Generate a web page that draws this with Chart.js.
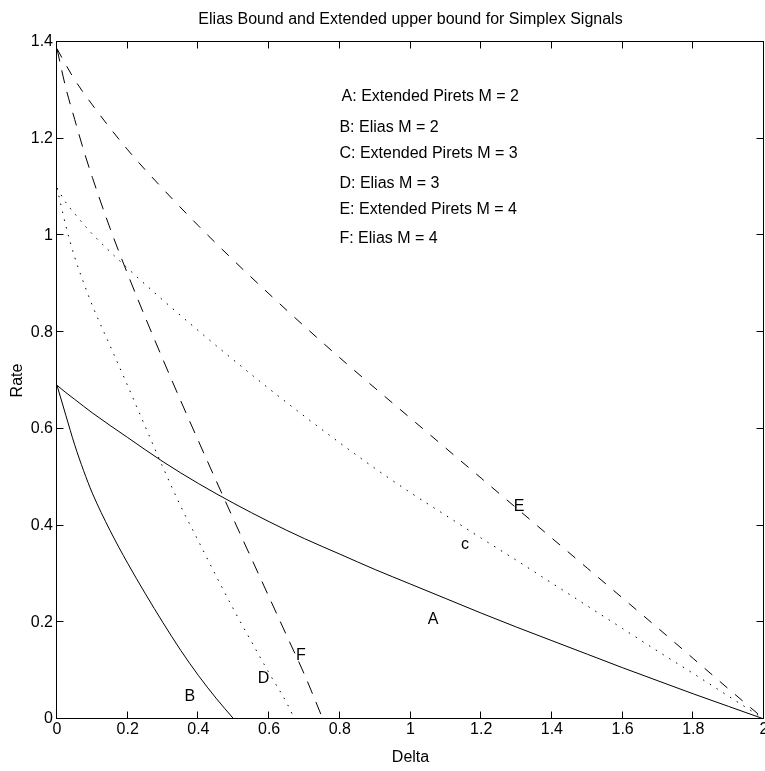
<!DOCTYPE html>
<html lang="en">
<head>
  <meta charset="UTF-8">
  <title>Elias Bound and Extended upper bound for Simplex Signals</title>
  <script src="https://cdn.jsdelivr.net/npm/chart.js"></script>
  <style>
    body { margin: 0; background: #fff; }
  </style>
</head>
<body>
  <canvas id="boundChart" width="765" height="771"></canvas>

  <script>
    // Extended Pirets upper bounds, over the whole delta range
    const extDelta = [0, 0.025, 0.05, 0.1, 0.2, 0.3, 0.4, 0.5, 0.6, 0.7, 0.8, 0.9, 1.0,
                      1.1, 1.2, 1.3, 1.4, 1.5, 1.6, 1.7, 1.8, 1.9, 2.0];
    const extPiretsM2 = [0.69, 0.675, 0.661, 0.633, 0.582, 0.532, 0.487, 0.446, 0.408, 0.373, 0.341, 0.309, 0.279,
                         0.249, 0.219, 0.19, 0.162, 0.134, 0.106, 0.079, 0.052, 0.026, 0];
    const extPiretsM3 = [1.098, 1.068, 1.045, 1.003, 0.932, 0.866, 0.803, 0.742, 0.683, 0.626, 0.571, 0.518, 0.468,
                         0.421, 0.374, 0.328, 0.281, 0.234, 0.187, 0.14, 0.094, 0.047, 0];
    const extPiretsM4 = [1.386, 1.353, 1.322, 1.27, 1.177, 1.096, 1.02, 0.948, 0.879, 0.812, 0.747, 0.684, 0.622,
                         0.56, 0.498, 0.436, 0.374, 0.312, 0.25, 0.188, 0.125, 0.062, 0];

    // Elias bounds, each one stops where the rate reaches zero
    const eliasDeltaM2 = [0, 0.025, 0.05, 0.075, 0.1, 0.15, 0.2, 0.25, 0.3, 0.35, 0.4, 0.45, 0.5];
    const eliasM2 = [0.69, 0.628, 0.567, 0.514, 0.467, 0.39, 0.322, 0.259, 0.199, 0.142, 0.09, 0.043, 0];

    const eliasDeltaM3 = [0, 0.025, 0.05, 0.075, 0.1, 0.15, 0.2, 0.25, 0.3, 0.35, 0.4, 0.45, 0.5,
                          0.55, 0.6, 0.65, 0.672];
    const eliasM3 = [1.098, 1.02, 0.955, 0.903, 0.855, 0.772, 0.689, 0.604, 0.52, 0.44, 0.368, 0.296, 0.226,
                     0.16, 0.095, 0.033, 0];

    const eliasDeltaM4 = [0, 0.025, 0.05, 0.075, 0.1, 0.15, 0.2, 0.25, 0.3, 0.35, 0.4, 0.45, 0.5,
                          0.55, 0.6, 0.65, 0.7, 0.752];
    const eliasM4 = [1.386, 1.305, 1.24, 1.177, 1.12, 1.015, 0.92, 0.83, 0.743, 0.658, 0.575, 0.493, 0.412,
                     0.332, 0.252, 0.172, 0.092, 0];

    const xTicks = [0, 0.2, 0.4, 0.6, 0.8, 1, 1.2, 1.4, 1.6, 1.8, 2];
    const xTickLabels = ['0', '0.2', '0.4', '0.6', '0.8', '1', '1.2', '1.4', '1.6', '1.8', '2'];
    const yTicks = [0, 0.2, 0.4, 0.6, 0.8, 1, 1.2, 1.4];
    const yTickLabels = ['0', '0.2', '0.4', '0.6', '0.8', '1', '1.2', '1.4'];

    const legendLines = ['A: Extended Pirets M = 2', 'B: Elias M = 2', 'C: Extended Pirets M = 3',
                         'D: Elias M = 3', 'E: Extended Pirets M = 4', 'F: Elias M = 4'];
    const curveTags = ['A', 'B', 'c', 'D', 'E', 'F'];

    // where the text goes, in data units (delta, rate)
    const legendAt = [[0.805, 1.288], [0.799, 1.223], [0.799, 1.169],
                      [0.799, 1.107], [0.799, 1.054], [0.799, 0.994]];
    const tagAt = [[1.064, 0.205], [0.376, 0.046], [1.154, 0.360],
                   [0.584, 0.084], [1.307, 0.439], [0.690, 0.132]];

    const FONT = '16px "Liberation Sans", Arial, Helvetica, sans-serif';
    Chart.defaults.font.family = '"Liberation Sans", Arial, Helvetica, sans-serif';
    Chart.defaults.font.size = 16;
    Chart.defaults.color = '#000';

    function toPoints(xs, ys) {
      return xs.map((x, i) => ({ x: x, y: ys[i] }));
    }

    function curve(xs, ys, dash) {
      return {
        data: toPoints(xs, ys),
        borderColor: '#000',
        borderWidth: 1,
        borderDash: dash,
        pointRadius: 0,
        fill: false,
        cubicInterpolationMode: 'monotone'
      };
    }

    const solid = [];
    const dotted = [1.5, 6.5];

    // box, inward ticks and all the text around the plot
    const framePlugin = {
      id: 'frame',
      afterDraw(chart) {
        const ctx = chart.ctx;
        const { left, right, top, bottom } = chart.chartArea;
        const xs = chart.scales.x, ys = chart.scales.y;
        const x0 = Math.round(left) - 0.5, x1 = Math.round(right) - 0.5;
        const y0 = Math.round(top) - 0.5, y1 = Math.round(bottom) - 0.5;
        const tick = 7;

        ctx.save();
        ctx.strokeStyle = '#000';
        ctx.lineWidth = 1;
        ctx.strokeRect(x0, y0, x1 - x0, y1 - y0);

        ctx.beginPath();
        xTicks.forEach(v => {
          const px = Math.round(xs.getPixelForValue(v)) - 0.5;
          ctx.moveTo(px, y1); ctx.lineTo(px, y1 - tick);
          ctx.moveTo(px, y0); ctx.lineTo(px, y0 + tick);
        });
        yTicks.forEach(v => {
          const py = Math.round(ys.getPixelForValue(v)) - 0.5;
          ctx.moveTo(x0, py); ctx.lineTo(x0 + tick, py);
          ctx.moveTo(x1, py); ctx.lineTo(x1 - tick, py);
        });
        ctx.stroke();

        ctx.fillStyle = '#000';
        ctx.font = FONT;
        ctx.textBaseline = 'middle';

        ctx.textAlign = 'center';
        ctx.fillText('Elias Bound and Extended upper bound for Simplex Signals', (left + right) / 2, 20);
        ctx.fillText('Delta', (left + right) / 2, 758);

        ctx.save();
        ctx.translate(18, (top + bottom) / 2);
        ctx.rotate(-Math.PI / 2);
        ctx.fillText('Rate', 0, 0);
        ctx.restore();

        ctx.textAlign = 'left';
        legendLines.forEach((txt, i) => {
          ctx.fillText(txt, xs.getPixelForValue(legendAt[i][0]), ys.getPixelForValue(legendAt[i][1]));
        });

        ctx.textAlign = 'center';
        curveTags.forEach((txt, i) => {
          ctx.fillText(txt, xs.getPixelForValue(tagAt[i][0]), ys.getPixelForValue(tagAt[i][1]));
        });
        ctx.restore();
      }
    };

    const ctx = document.getElementById('boundChart').getContext('2d');
    new Chart(ctx, {
      type: 'line',
      data: {
        datasets: [
          curve(extDelta, extPiretsM2, solid),
          curve(eliasDeltaM2, eliasM2, solid),
          curve(extDelta, extPiretsM3, dotted),
          curve(eliasDeltaM3, eliasM3, dotted),
          curve(extDelta, extPiretsM4, [10, 10]),
          curve(eliasDeltaM4, eliasM4, [13, 9])
        ]
      },
      options: {
        responsive: false,
        animation: false,
        layout: { padding: { left: 0, right: 1, top: 42, bottom: 0 } },
        plugins: {
          legend: { display: false },
          tooltip: { enabled: false }
        },
        scales: {
          x: {
            type: 'linear',
            min: 0,
            max: 2,
            afterBuildTicks: s => { s.ticks = xTicks.map(v => ({ value: v })); },
            afterFit: s => {
              s.height = 52;
              s.paddingLeft = 0; s.paddingRight = 0;
            },
            grid: { display: false, drawTicks: false },
            border: { display: false },
            ticks: {
              padding: 1,
              autoSkip: false,
              maxRotation: 0,
              callback: (v, i) => xTickLabels[i]
            }
          },
          y: {
            type: 'linear',
            min: 0,
            max: 1.4,
            afterBuildTicks: s => { s.ticks = yTicks.map(v => ({ value: v })); },
            afterFit: s => {
              s.width = 57;
              s.paddingTop = 0; s.paddingBottom = 0;
            },
            grid: { display: false, drawTicks: false },
            border: { display: false },
            ticks: {
              padding: 4,
              autoSkip: false,
              callback: (v, i) => yTickLabels[i]
            }
          }
        }
      },
      plugins: [framePlugin]
    });
  </script>
</body>
</html>
